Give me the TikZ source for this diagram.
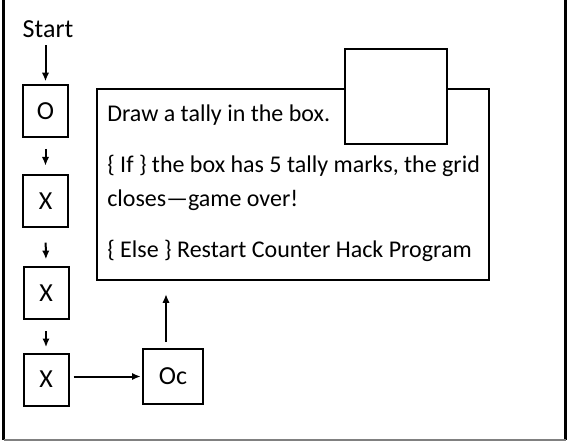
\documentclass[tikz,border=0pt]{standalone}
\usepackage{fontspec}
\setmainfont{Carlito}
\usetikzlibrary{arrows.meta}
\begin{document}
\begin{tikzpicture}[x=0.75pt,y=-0.75pt,
  every node/.style={font=\fontsize{18}{21}\selectfont},
  lbl/.style={font=\fontsize{19.5}{22}\selectfont},
  cell/.style={draw,line width=1.5pt,minimum width=33.75pt,minimum height=39pt,inner sep=0pt,lbl},
  bigbox/.style={draw,line width=2.2pt,minimum width=294pt,minimum height=143.25pt,inner sep=0pt},
  tallybox/.style={draw,fill=white,line width=1.5pt,minimum width=76.5pt,minimum height=71.25pt,inner sep=0pt},
  txt/.style={anchor=base west,inner sep=0pt},
  arr/.style={line width=1.5pt,-{Latex[length=6.5pt,width=5.5pt]}},
  frame/.style={line width=2.2pt}]
\useasboundingbox (0,0) rectangle (567,441);
% outer frame
\draw[frame] (3.5,0) -- (3.5,440);
\draw[frame] (565.5,0) -- (565.5,440);
\draw[gray,line width=1pt] (3.5,440) -- (565.5,440);
% main box
\node[bigbox] (main) at (293,184.5) {};
\node[tallybox] (tally) at (396,96.5) {};
\node[txt] (t1) at (107,122) {Draw a tally in the box.};
\node[txt] (t2) at (107,173) {\{ If \} the box has 5 tally marks, the grid};
\node[txt] (t3) at (107,207) {closes—game over!};
\node[txt] (t4) at (107,258) {\{ Else \} Restart Counter Hack Program};
% left column
\node[anchor=base,inner sep=0pt,lbl] (start) at (48,38) {Start};
\node[cell] (o) at (45.5,111) {O};
\node[cell] (x1) at (45.5,201) {X};
\node[cell] (x2) at (46,293) {X};
\node[cell] (x3) at (46,379.5) {X};
\node[cell,minimum width=45pt,minimum height=41.25pt] (oc) at (173,376.5) {Oc};
% arrows
\draw[arr,shorten <=5pt,shorten >=2pt] (start.south -| o.north) -- (o.north);
\draw[arr,shorten <=8.25pt,shorten >=6.25pt] (o.south) -- (x1.north);
\draw[arr,shorten <=11pt,shorten >=5pt] (x1.south) -- (x2.north);
\draw[arr,shorten <=8.5pt,shorten >=4pt] (x2.south) -- (x3.north);
\draw[arr,shorten <=3pt,shorten >=1pt] (x3.east |- oc.west) -- (oc.west);
\draw[arr,shorten <=4.5pt,shorten >=9.5pt] ([xshift=-5.25pt]oc.north) -- ([xshift=-5.25pt]oc.north |- main.south);
\end{tikzpicture}
\end{document}
